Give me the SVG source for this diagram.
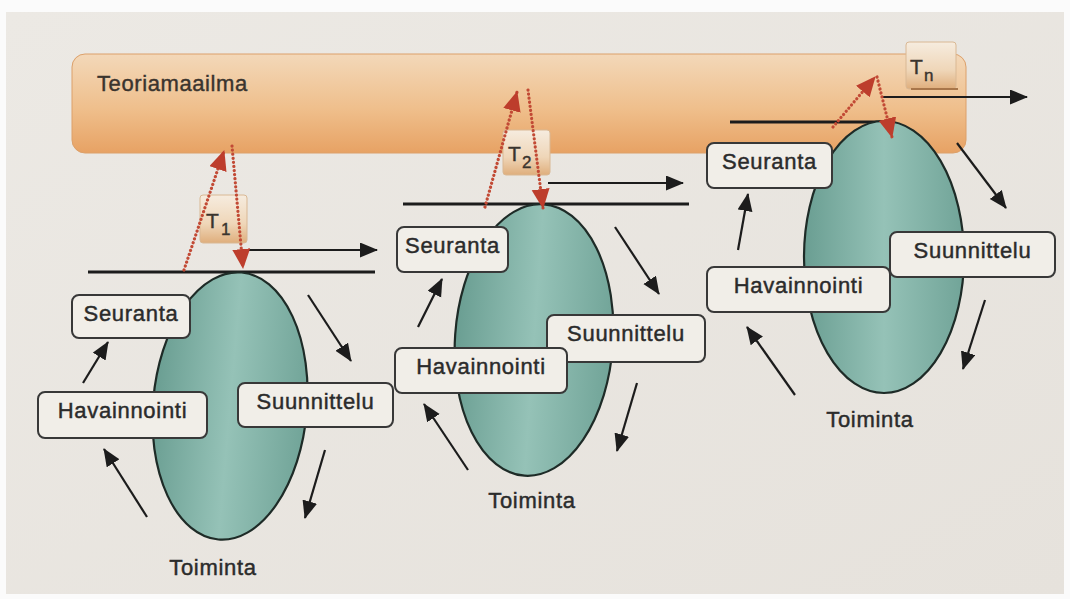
<svg xmlns="http://www.w3.org/2000/svg" width="1070" height="599" viewBox="0 0 1070 599">
  <defs>
    <linearGradient id="barFill" x1="0" y1="0" x2="0" y2="1">
      <stop offset="0" stop-color="#f3d8b9"/>
      <stop offset="0.55" stop-color="#efbf8c"/>
      <stop offset="1" stop-color="#e7a264"/>
    </linearGradient>
    <linearGradient id="ovalFill" x1="0" y1="0" x2="1" y2="0">
      <stop offset="0" stop-color="#6a9e92"/>
      <stop offset="0.5" stop-color="#95c2b7"/>
      <stop offset="1" stop-color="#71a498"/>
    </linearGradient>
    <linearGradient id="tagFill" x1="0" y1="0" x2="0" y2="1">
      <stop offset="0" stop-color="#f6ecdf"/>
      <stop offset="0.6" stop-color="#efd6b8"/>
      <stop offset="1" stop-color="#dfae7c"/>
    </linearGradient>
    <linearGradient id="paper" x1="0" y1="0" x2="1" y2="1">
      <stop offset="0" stop-color="#ece9e4"/>
      <stop offset="1" stop-color="#e6e2dc"/>
    </linearGradient>
    <marker id="headBlack" markerUnits="userSpaceOnUse" markerWidth="20" markerHeight="16" refX="17" refY="7.5" orient="auto">
      <path d="M0,0 L18,7.5 L0,15 Z" fill="#1c1c1c"/>
    </marker>
    <marker id="headRed" markerUnits="userSpaceOnUse" markerWidth="22" markerHeight="20" refX="19" refY="9" orient="auto">
      <path d="M0,0 L20,9 L0,18 Z" fill="#bd3d2c"/>
    </marker>
  </defs>
  <style>
    .lbl { font-family: "Liberation Sans", Arial, sans-serif; font-size: 22px; letter-spacing: 0.7px; fill: #2b2b2b; stroke: #2b2b2b; stroke-width: 0.45px; text-anchor: middle; }
    .title { font-family: "Liberation Sans", Arial, sans-serif; font-size: 22px; letter-spacing: 0.6px; fill: #3a342e; stroke: #3a342e; stroke-width: 0.4px; }
    .box { fill: #f1eee8; stroke: #383838; stroke-width: 2; }
    .oval { fill: url(#ovalFill); stroke: #1e2b27; stroke-width: 2.2; }
    .tag { fill: url(#tagFill); stroke: #d9b894; stroke-width: 1; }
    .tsym { font-family: "Liberation Sans", Arial, sans-serif; font-size: 21px; fill: #3a342e; stroke: #3a342e; stroke-width: 0.4px; }
    .tsub { font-family: "Liberation Sans", Arial, sans-serif; font-size: 17px; fill: #3a342e; stroke: #3a342e; stroke-width: 0.4px; }
    .base { stroke: #1c1c1c; stroke-width: 3; }
    .arrow { stroke: #1c1c1c; stroke-width: 2.2; fill: none; marker-end: url(#headBlack); }
    .dots { stroke: #c24a35; stroke-width: 3.2; stroke-dasharray: 0.1 4; stroke-linecap: round; fill: none; marker-end: url(#headRed); }
  </style>

  <!-- page -->
  <rect x="0" y="0" width="1070" height="599" fill="#fbfbfb"/>
  <rect x="6" y="12" width="1058" height="582" fill="url(#paper)"/>

  <!-- theory band -->
  <g id="teoriamaailma">
    <rect x="72" y="54" width="894" height="99" rx="13" fill="url(#barFill)" stroke="#dca06a" stroke-width="1"/>
    <text class="title" x="97" y="91">Teoriamaailma</text>
  </g>

  <!-- cycle 1 -->
  <g id="cycle1">
    <line class="base" x1="88" y1="272" x2="375" y2="272"/>
    <ellipse class="oval" cx="230" cy="406" rx="77" ry="134" transform="rotate(5 230 406)"/>
    <g id="t1">
      <rect class="tag" x="200" y="195" width="47" height="48" rx="3"/>
      <text class="tsym" x="206" y="228">T</text>
      <text class="tsub" x="221" y="235">1</text>
    </g>
    <g id="seuranta1">
      <rect class="box" x="72" y="295" width="118" height="43" rx="7"/>
      <text class="lbl" x="131" y="321">Seuranta</text>
    </g>
    <g id="havainnointi1">
      <rect class="box" x="38" y="392" width="169" height="46" rx="7"/>
      <text class="lbl" x="122.5" y="418">Havainnointi</text>
    </g>
    <g id="suunnittelu1">
      <rect class="box" x="238" y="383" width="155" height="44" rx="7"/>
      <text class="lbl" x="315.5" y="409">Suunnittelu</text>
    </g>
    <text class="lbl" x="213" y="575">Toiminta</text>
  </g>

  <!-- cycle 2 -->
  <g id="cycle2">
    <line class="base" x1="403" y1="204" x2="689" y2="204"/>
    <ellipse class="oval" cx="534" cy="340" rx="79" ry="136" transform="rotate(4 534 340)"/>
    <g id="t2">
      <rect class="tag" x="503" y="130" width="47" height="45" rx="3"/>
      <text class="tsym" x="508" y="161">T</text>
      <text class="tsub" x="522" y="168">2</text>
    </g>
    <g id="seuranta2">
      <rect class="box" x="397" y="227" width="111" height="45" rx="7"/>
      <text class="lbl" x="452.5" y="253">Seuranta</text>
    </g>
    <g id="suunnittelu2">
      <rect class="box" x="547" y="315" width="158" height="47" rx="7"/>
      <text class="lbl" x="626" y="341">Suunnittelu</text>
    </g>
    <g id="havainnointi2">
      <rect class="box" x="395" y="348" width="172" height="45" rx="7"/>
      <text class="lbl" x="481" y="374">Havainnointi</text>
    </g>
    <text class="lbl" x="532" y="508">Toiminta</text>
  </g>

  <!-- cycle n -->
  <g id="cycle3">
    <line class="base" x1="730" y1="122" x2="884" y2="122"/>
    <ellipse class="oval" cx="884" cy="257" rx="80" ry="136"/>
    <g id="tn">
      <rect class="tag" x="906" y="42" width="50" height="47" rx="3"/>
      <line x1="911" y1="89" x2="958" y2="89" stroke="#a8764a" stroke-width="2"/>
      <text class="tsym" x="910" y="74">T</text>
      <text class="tsub" x="924" y="81">n</text>
    </g>
    <g id="seuranta3">
      <rect class="box" x="707" y="143" width="125" height="45" rx="7"/>
      <text class="lbl" x="769.5" y="169">Seuranta</text>
    </g>
    <g id="suunnittelu3">
      <rect class="box" x="890" y="232" width="165" height="45" rx="7"/>
      <text class="lbl" x="972.5" y="258">Suunnittelu</text>
    </g>
    <g id="havainnointi3">
      <rect class="box" x="707" y="267" width="183" height="45" rx="7"/>
      <text class="lbl" x="798.5" y="293">Havainnointi</text>
    </g>
    <text class="lbl" x="870" y="427">Toiminta</text>
  </g>

  <!-- connectors -->
  <g id="connectors">
    <!-- cycle 1 -->
    <line class="arrow" x1="83" y1="383" x2="108" y2="342"/>
    <line class="arrow" x1="147" y1="517" x2="104" y2="449"/>
    <line class="arrow" x1="308" y1="295" x2="351" y2="361"/>
    <line class="arrow" x1="325" y1="450" x2="305" y2="518"/>
    <line class="arrow" x1="249" y1="250" x2="377" y2="250"/>
    <line class="dots" x1="184" y1="270" x2="224" y2="151"/>
    <line class="dots" x1="232" y1="146" x2="243" y2="268"/>
    <!-- cycle 2 -->
    <line class="arrow" x1="418" y1="327" x2="442" y2="279"/>
    <line class="arrow" x1="468" y1="470" x2="424" y2="404"/>
    <line class="arrow" x1="615" y1="227" x2="659" y2="294"/>
    <line class="arrow" x1="637" y1="383" x2="617" y2="451"/>
    <line class="arrow" x1="548" y1="183" x2="683" y2="183"/>
    <line class="dots" x1="485" y1="207" x2="517" y2="92"/>
    <line class="dots" x1="528" y1="90" x2="543" y2="208"/>
    <!-- cycle n -->
    <line class="arrow" x1="738" y1="250" x2="748" y2="194"/>
    <line class="arrow" x1="795" y1="395" x2="747" y2="327"/>
    <line class="arrow" x1="957" y1="143" x2="1006" y2="208"/>
    <line class="arrow" x1="985" y1="300" x2="963" y2="369"/>
    <line class="arrow" x1="883" y1="97" x2="1027" y2="97"/>
    <line class="dots" x1="833" y1="127" x2="875" y2="77"/>
    <line class="dots" x1="877" y1="77" x2="892" y2="137"/>
  </g>
</svg>
